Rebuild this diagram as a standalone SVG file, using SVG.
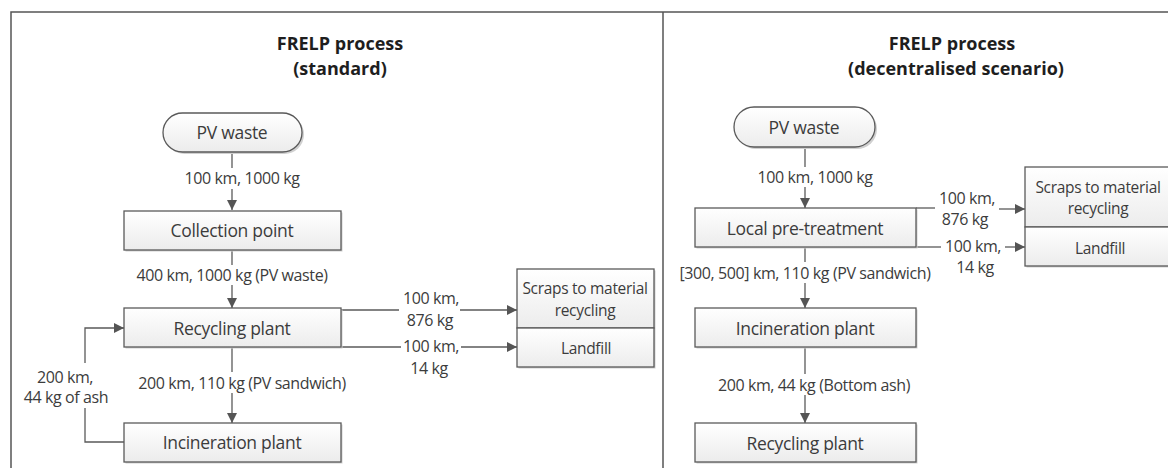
<svg xmlns="http://www.w3.org/2000/svg" width="1168" height="468" viewBox="0 0 1168 468">
<defs>
<linearGradient id="g" x1="0" y1="0" x2="0" y2="1">
<stop offset="0" stop-color="#ffffff"/>
<stop offset="1" stop-color="#ececec"/>
</linearGradient>
<marker id="ah" viewBox="0 0 10 10" refX="10" refY="5" markerWidth="10" markerHeight="10" markerUnits="userSpaceOnUse" orient="auto">
<path d="M0,0 L10,5 L0,10 Z" fill="#555"/>
</marker>
<style>
.box{fill:url(#g);stroke:#5a5a5a;stroke-width:1.3}
.sh{fill:#d0d0d0;stroke:none}
.nt{font-family:"Open Sans","Noto Sans",sans-serif;font-size:17.5px;fill:#3c3c3c;text-anchor:middle;dominant-baseline:central;letter-spacing:-0.3px}
.st{font-family:"Open Sans","Noto Sans",sans-serif;font-size:15.5px;fill:#3c3c3c;text-anchor:middle;dominant-baseline:central;letter-spacing:-0.3px}
.lb{font-family:"Open Sans","Noto Sans",sans-serif;font-size:16px;fill:#3c3c3c;text-anchor:middle;dominant-baseline:central;letter-spacing:-0.4px}
.tt{font-family:"Open Sans","Noto Sans",sans-serif;font-size:18px;font-weight:bold;fill:#1e1e1e;text-anchor:middle}
.ln{fill:none;stroke:#5a5a5a;stroke-width:1.3}
.ar{fill:none;stroke:#5a5a5a;stroke-width:1.3;marker-end:url(#ah)}
.fr{fill:none;stroke:#555;stroke-width:1.5}
</style>
</defs>
<rect width="1168" height="468" fill="#fff"/>
<g id="frame">
<path class="fr" d="M11,468 V12 H1168"/>
<path class="fr" d="M663,12 V468"/>
</g>
<g id="titles">
<text class="tt" x="340" y="50">FRELP process</text>
<text class="tt" x="340" y="75">(standard)</text>
<text class="tt" x="952" y="50">FRELP process</text>
<text class="tt" x="956" y="75">(decentralised scenario)</text>
</g>
<g id="connectors">
<path class="ln" d="M232,152 V168"/>
<path class="ar" d="M232,189 V210"/>
<path class="ln" d="M232,250 V265"/>
<path class="ar" d="M232,285 V308"/>
<path class="ln" d="M232,347 V372"/>
<path class="ar" d="M232,393 V423"/>
<path class="ln" d="M124,442 H85 V408"/>
<path class="ar" d="M85,363 V328 H124"/>
<path class="ln" d="M341,310 H399"/>
<path class="ar" d="M460,310 H517"/>
<path class="ln" d="M341,347 H401"/>
<path class="ar" d="M461,347 H517"/>
<path class="ln" d="M805,147 V167"/>
<path class="ar" d="M805,187 V208"/>
<path class="ln" d="M805,247 V262"/>
<path class="ar" d="M805,283 V308"/>
<path class="ln" d="M805,347 V374"/>
<path class="ar" d="M805,395 V423"/>
<path class="ln" d="M916,208 H935"/>
<path class="ar" d="M999,209 H1025"/>
<path class="ln" d="M916,247 H941"/>
<path class="ar" d="M1005,247 H1025"/>
</g>
<g id="connector-labels">
<text class="lb" x="242" y="178">100 km, 1000 kg</text>
<text class="lb" x="232" y="275">400 km, 1000 kg (PV waste)</text>
<text class="lb" x="242" y="383">200 km, 110 kg (PV sandwich)</text>
<text class="lb" x="65" y="377">200 km,</text>
<text class="lb" x="66" y="397">44 kg of ash</text>
<text class="lb" x="431" y="298">100 km,</text>
<text class="lb" x="430" y="320">876 kg</text>
<text class="lb" x="431" y="346">100 km,</text>
<text class="lb" x="429" y="368">14 kg</text>
<text class="lb" x="815" y="177">100 km, 1000 kg</text>
<text class="lb" x="805" y="273">[300, 500] km, 110 kg (PV sandwich)</text>
<text class="lb" x="814" y="385">200 km, 44 kg (Bottom ash)</text>
<text class="lb" x="967" y="198">100 km,</text>
<text class="lb" x="965" y="219">876 kg</text>
<text class="lb" x="973" y="246">100 km,</text>
<text class="lb" x="975" y="267">14 kg</text>
</g>
<g id="L-pvwaste">
<rect class="sh" x="165" y="115" width="139" height="39" rx="19.5"/>
<rect class="box" x="163" y="113" width="139" height="39" rx="19.5"/>
<text class="nt" x="232" y="132">PV waste</text>
</g>
<g id="L-collection">
<rect class="sh" x="125.5" y="212.5" width="217" height="39"/>
<rect class="box" x="124" y="211" width="217" height="39"/>
<text class="nt" x="232" y="230">Collection point</text>
</g>
<g id="L-recycling">
<rect class="sh" x="125.5" y="309.5" width="217" height="39"/>
<rect class="box" x="124" y="308" width="217" height="39"/>
<text class="nt" x="232" y="328">Recycling plant</text>
</g>
<g id="L-incineration">
<rect class="sh" x="125.5" y="424.5" width="217" height="39"/>
<rect class="box" x="124" y="423" width="217" height="39"/>
<text class="nt" x="232" y="442">Incineration plant</text>
</g>
<g id="L-scraps">
<rect class="sh" x="518.5" y="270.5" width="137" height="98"/>
<rect class="box" x="517" y="269" width="137" height="59"/>
<text class="st" x="585" y="288">Scraps to material</text>
<text class="st" x="585" y="310">recycling</text>
</g>
<g id="L-landfill">
<rect class="box" x="517" y="328" width="137" height="39"/>
<text class="st" x="586" y="348">Landfill</text>
</g>
<g id="R-pvwaste">
<rect class="sh" x="736" y="109" width="141" height="40" rx="20"/>
<rect class="box" x="734" y="107" width="141" height="40" rx="20"/>
<text class="nt" x="804" y="127">PV waste</text>
</g>
<g id="R-local">
<rect class="sh" x="696.5" y="209.5" width="221" height="39"/>
<rect class="box" x="695" y="208" width="221" height="39"/>
<text class="nt" x="805" y="228">Local pre-treatment</text>
</g>
<g id="R-incineration">
<rect class="sh" x="696.5" y="309.5" width="221" height="39"/>
<rect class="box" x="695" y="308" width="221" height="39"/>
<text class="nt" x="805" y="328">Incineration plant</text>
</g>
<g id="R-recycling">
<rect class="sh" x="696.5" y="424.5" width="221" height="39"/>
<rect class="box" x="695" y="423" width="221" height="39"/>
<text class="nt" x="805" y="443">Recycling plant</text>
</g>
<g id="R-scraps">
<rect class="sh" x="1026.5" y="168.5" width="150" height="99"/>
<rect class="box" x="1025" y="167" width="150" height="60"/>
<text class="st" x="1098" y="187">Scraps to material</text>
<text class="st" x="1098" y="208">recycling</text>
</g>
<g id="R-landfill">
<rect class="box" x="1025" y="227" width="150" height="39"/>
<text class="st" x="1100" y="248">Landfill</text>
</g>
</svg>
